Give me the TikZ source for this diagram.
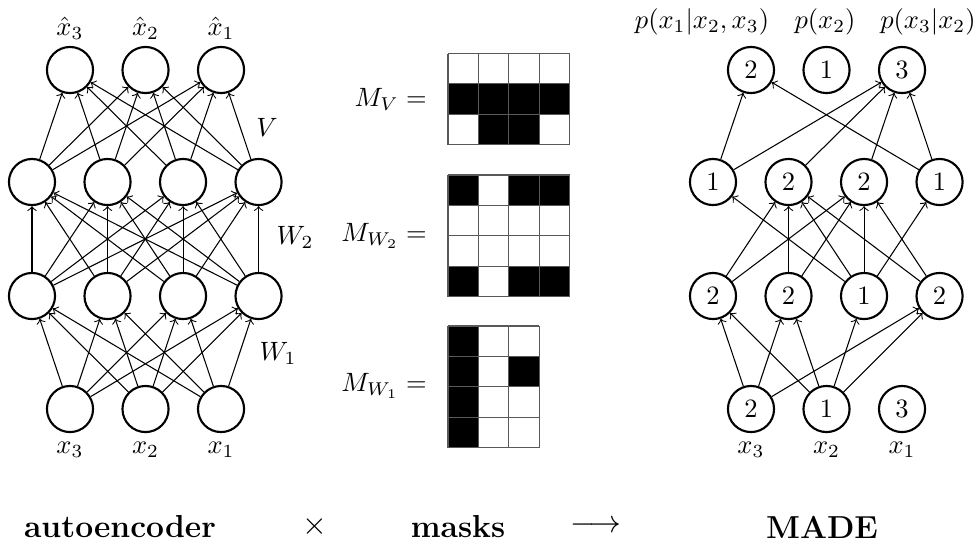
\documentclass[tikz,border=0pt]{standalone}
\usepackage{amsmath}
\usepackage{amssymb}
\usepackage{tikz}
\usetikzlibrary{positioning}
\usetikzlibrary{arrows}

\begin{document}
\begin{tikzpicture}[x=0.3774pt,y=-0.3774pt,>=to,node distance=28.5pt,
	main node/.style={circle,draw,thick,minimum size=17.4pt,inner sep=0pt},
	grid line/.style={draw=black!65,line width=0.4pt},
	caption/.style={font=\large\bfseries}]

	\useasboundingbox (0,0) rectangle (979,544);

	% autoencoder
	\node[main node] (o1) at (70,70) {};
	\node[main node] (o2) [right of=o1] {};
	\node[main node] (o3) [right of=o2] {};
	\node[main node] (h21) at (32,182) {};
	\node[main node] (h22) [right of=h21] {};
	\node[main node] (h23) [right of=h22] {};
	\node[main node] (h24) [right of=h23] {};
	\node[main node] (h11) at (32,296) {};
	\node[main node] (h12) [right of=h11] {};
	\node[main node] (h13) [right of=h12] {};
	\node[main node] (h14) [right of=h13] {};
	\node[main node] (i1) at (70,409) {};
	\node[main node] (i2) [right of=i1] {};
	\node[main node] (i3) [right of=i2] {};

	\node (xh3) [above of=o1,node distance=15.8pt] {$\hat{x}_3$};
	\node (xh2) [above of=o2,node distance=15.8pt] {$\hat{x}_2$};
	\node (xh1) [above of=o3,node distance=15.8pt] {$\hat{x}_1$};
	\node (x3) [below of=i1,node distance=15.5pt] {$x_3$};
	\node (x2) [below of=i2,node distance=15.5pt] {$x_2$};
	\node (x1) [below of=i3,node distance=15.5pt] {$x_1$};

	\node (lv) at (267,127) {$V$};
	\node (lw2) at (295,237) {$W_2$};
	\node (lw1) at (278,353) {$W_1$};

	\foreach \a in {1,...,4}
	{
		\foreach \b in {1,2,3}
		{
			\draw[->] (h2\a) -- (o\b);
			\draw[->] (i\b) -- (h1\a);
		}
		\foreach \b in {1,...,4}
			\draw[->] (h1\b) -- (h2\a);
	}

	% masks
	\foreach \c/\r in {1/2,2/2,3/2,4/2,2/3,3/3}
		\fill (448+30.4*\c-30.4,53.5+30.4*\r-30.4) rectangle ++(30.4,30.4);
	\foreach \c/\r in {1/1,3/1,4/1,1/4,3/4,4/4}
		\fill (448+30.4*\c-30.4,175+30.4*\r-30.4) rectangle ++(30.4,30.4);
	\foreach \c/\r in {1/1,1/2,1/3,1/4,3/2}
		\fill (448+30.4*\c-30.4,326+30.4*\r-30.4) rectangle ++(30.4,30.4);
	\foreach \i in {0,...,4}
		\path[grid line] (448+30.4*\i,53.5) -- ++(0,91.2);
	\foreach \i in {0,...,3}
		\path[grid line] (448,53.5+30.4*\i) -- ++(121.6,0);
	\foreach \i in {0,...,4}
	{
		\path[grid line] (448+30.4*\i,175) -- ++(0,121.6);
		\path[grid line] (448,175+30.4*\i) -- ++(121.6,0);
		\path[grid line] (448,326+30.4*\i) -- ++(91.2,0);
	}
	\foreach \i in {0,...,3}
		\path[grid line] (448+30.4*\i,326) -- ++(0,121.6);

	\node (mv) [anchor=east] at (436,99) {$M_V =$};
	\node (mw2) [anchor=east] at (436,236) {$M_{W_2} =$};
	\node (mw1) [anchor=east] at (436,386) {$M_{W_1} =$};

	% MADE
	\node[main node] (ro1) at (751,70) {2};
	\node[main node] (ro2) [right of=ro1] {1};
	\node[main node] (ro3) [right of=ro2] {3};
	\node[main node] (rh21) at (713,182) {1};
	\node[main node] (rh22) [right of=rh21] {2};
	\node[main node] (rh23) [right of=rh22] {2};
	\node[main node] (rh24) [right of=rh23] {1};
	\node[main node] (rh11) at (713,296) {2};
	\node[main node] (rh12) [right of=rh11] {2};
	\node[main node] (rh13) [right of=rh12] {1};
	\node[main node] (rh14) [right of=rh13] {2};
	\node[main node] (ri1) at (751,409) {2};
	\node[main node] (ri2) [right of=ri1] {1};
	\node[main node] (ri3) [right of=ri2] {3};

	\node (p1) at (702,22) {$p(x_1|x_2,x_3)$};
	\node (p2) at (825,22) {$p(x_2)$};
	\node (p3) at (928,22) {$p(x_3|x_2)$};
	\node (rx3) [below of=ri1,node distance=15.5pt] {$x_3$};
	\node (rx2) [below of=ri2,node distance=15.5pt] {$x_2$};
	\node (rx1) [below of=ri3,node distance=15.5pt] {$x_1$};

	\path[->]
	(rh21) edge (ro1)
	(rh21) edge (ro3)
	(rh22) edge (ro3)
	(rh23) edge (ro3)
	(rh24) edge (ro3)
	(rh24) edge (ro1)
	(rh13) edge (rh21)
	(rh11) edge (rh22)
	(rh12) edge (rh22)
	(rh13) edge (rh22)
	(rh14) edge (rh22)
	(rh11) edge (rh23)
	(rh12) edge (rh23)
	(rh13) edge (rh23)
	(rh14) edge (rh23)
	(rh13) edge (rh24)
	(ri1) edge (rh11)
	(ri2) edge (rh11)
	(ri1) edge (rh12)
	(ri2) edge (rh12)
	(ri2) edge (rh13)
	(ri1) edge (rh14)
	(ri2) edge (rh14);

	% bottom line
	\node[caption] (ae) at (120,527) {autoencoder};
	\node (times) at (315,527) {\large$\times$};
	\node[caption] (mk) at (458,527) {masks};
	\node (to) at (596,527) {\large$\longrightarrow$};
	\node[caption] (made) at (822,527) {MADE};
\end{tikzpicture}
\end{document}
